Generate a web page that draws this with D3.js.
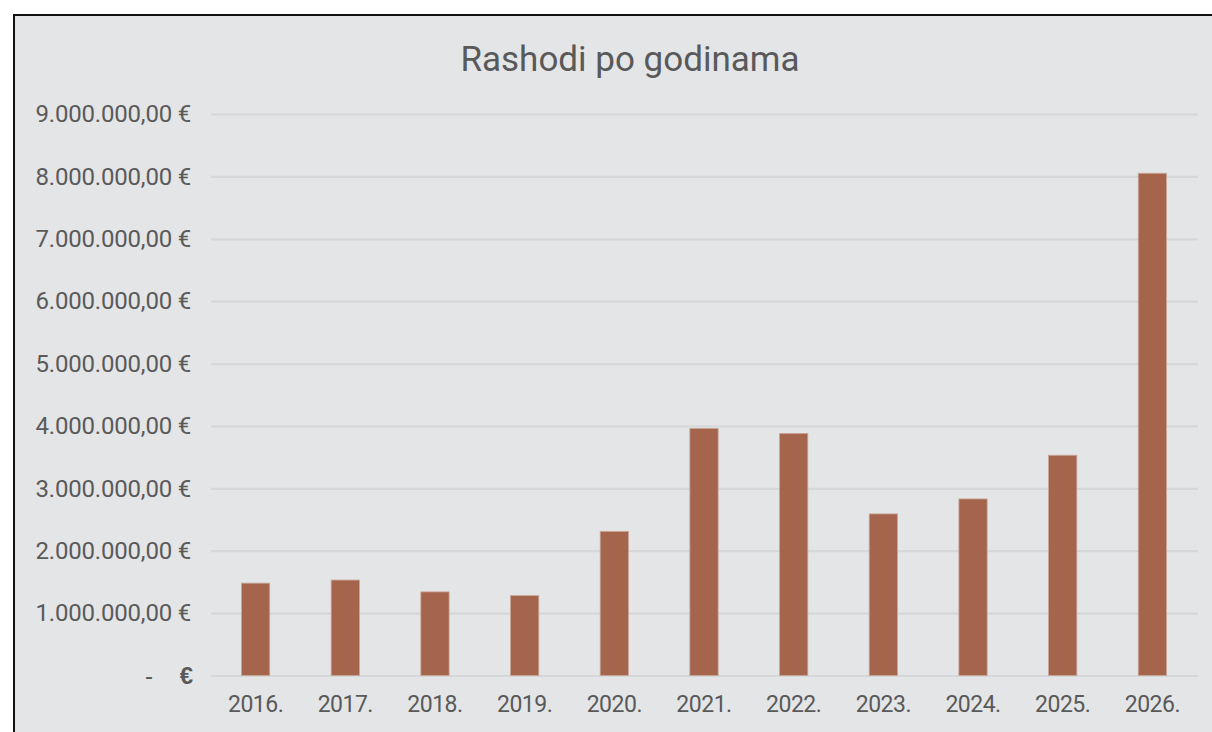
<!DOCTYPE html>
<html>
<head>
<meta charset="utf-8">
<script src="https://cdn.jsdelivr.net/npm/d3@7"></script>
<style>
  body { margin: 0; background: #fff; }
  svg { display: block; font-family: Roboto, "Noto Sans", sans-serif; }
</style>
</head>
<body>
<script>
// podaci
const godine = ["2016.", "2017.", "2018.", "2019.", "2020.", "2021.", "2022.", "2023.", "2024.", "2025.", "2026."];
const rashodi = [1480000, 1530000, 1340000, 1280000, 2310000, 3960000, 3880000, 2590000, 2830000, 3530000, 8050000];
const yTicks = [0, 1000000, 2000000, 3000000, 4000000, 5000000, 6000000, 7000000, 8000000, 9000000];
const naslov = "Rashodi po godinama";

const W = 1212, H = 732;
const margin = { top: 114, right: 13, bottom: 56, left: 211 };
const width = W - margin.left - margin.right,
      height = H - margin.top - margin.bottom;

const hr = d3.formatLocale({ decimal: ",", thousands: ".", grouping: [3], currency: ["", " €"] });
const fmt = hr.format("$,.2f");

const svg = d3.select("body").append("svg")
    .attr("width", W)
    .attr("height", H);

// okvir grafa
svg.append("rect")
    .attr("x", 14).attr("y", 15)
    .attr("width", W + 20).attr("height", H + 20)
    .attr("fill", "#e4e5e7")
    .attr("stroke", "#111")
    .attr("stroke-width", 2);

svg.append("text")
    .attr("x", 630).attr("y", 71)
    .attr("text-anchor", "middle")
    .attr("font-size", 35)
    .attr("fill", "#595959")
    .text(naslov);

const g = svg.append("g")
    .attr("transform", "translate(" + margin.left + "," + margin.top + ")");

const x = d3.scaleBand()
    .domain(godine)
    .range([0, width - 2])
    .paddingInner(0.685)
    .paddingOuter(0.34);

const y = d3.scaleLinear()
    .domain([0, 9000000])
    .range([height - 0.5, 0]);

// mreža
g.append("g")
    .call(d3.axisLeft(y).tickValues(yTicks).tickSize(-(width - 1)).tickFormat(""))
    .call(a => a.select(".domain").remove())
    .selectAll("line")
    .attr("stroke", "#d6d7d9")
    .attr("stroke-width", 2.2);

// oznake osi y
const yAx = g.append("g")
    .attr("transform", "translate(-20,0)")
    .call(d3.axisLeft(y).tickValues(yTicks).tickSize(0).tickPadding(0)
        .tickFormat(d => d === 0 ? "" : fmt(d)));
yAx.select(".domain").remove();
yAx.selectAll("text")
    .attr("font-size", 24)
    .attr("font-family", "Roboto, sans-serif")
    .attr("fill", "#5a5a5a")
    .attr("letter-spacing", -0.2);

// nula: "-   €"
const zero = yAx.selectAll(".tick").filter(d => d === 0);
zero.append("text")
    .attr("x", -38).attr("dy", "0.32em")
    .attr("text-anchor", "end")
    .attr("font-size", 24).attr("fill", "#595959")
    .text("-");
zero.append("text")
    .attr("x", 2).attr("dy", "0.32em")
    .attr("text-anchor", "end")
    .attr("font-size", 24).attr("font-weight", "bold").attr("fill", "#595959")
    .text("€");

// stupci
g.selectAll(".bar")
    .data(godine)
    .enter()
    .append("rect")
    .attr("class", "bar")
    .attr("x", (d) => x(d))
    .attr("y", (d, i) => y(rashodi[i]))
    .attr("width", x.bandwidth())
    .attr("height", (d, i) => y(0) - y(rashodi[i]))
    .attr("fill", "#a5654d")
    .attr("stroke", "#c9a596")
    .attr("stroke-width", 0.8);

// oznake osi x
const xAx = g.append("g")
    .attr("transform", "translate(0," + height + ")")
    .call(d3.axisBottom(x).tickSize(0).tickPadding(20));
xAx.select(".domain").remove();
xAx.selectAll("text")
    .attr("font-size", 23)
    .attr("font-family", "Roboto, sans-serif")
    .attr("fill", "#595959")
    .attr("letter-spacing", -0.5);
</script>
</body>
</html>
